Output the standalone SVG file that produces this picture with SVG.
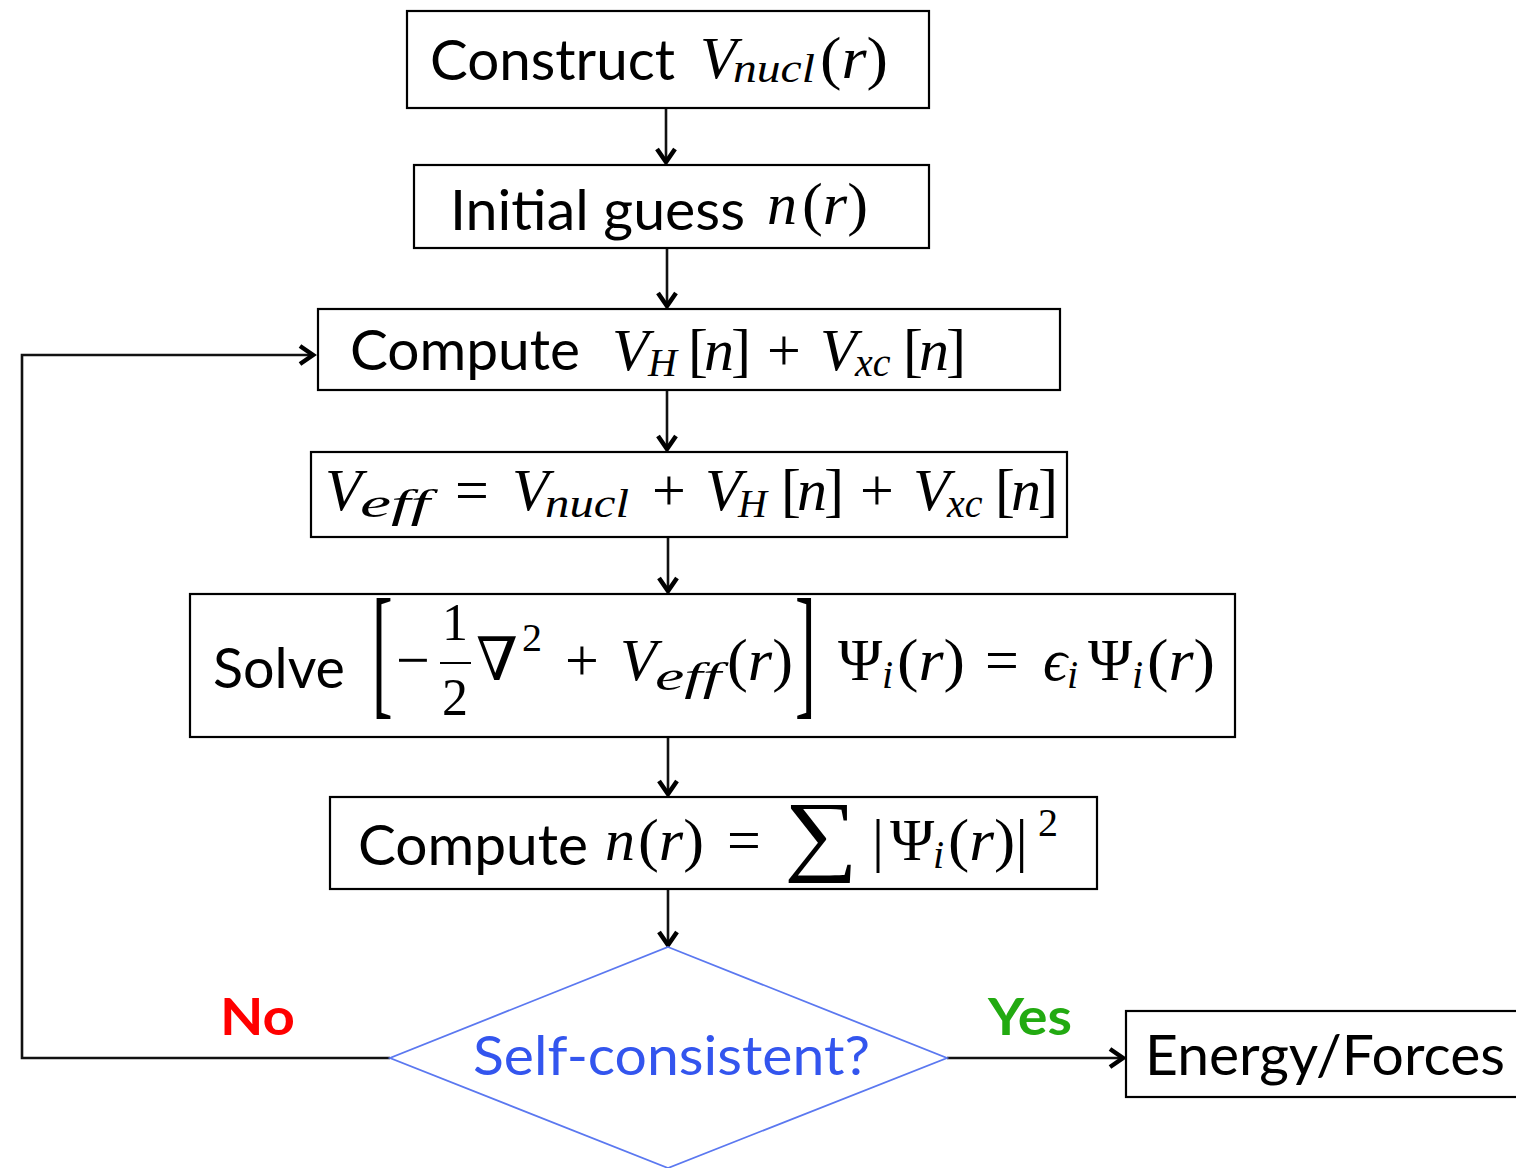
<svg xmlns="http://www.w3.org/2000/svg" width="1516" height="1168" viewBox="0 0 1516 1168">
<defs>
<style>
.box{fill:#fff;stroke:#000;stroke-width:2.2}
.dia{fill:#fff;stroke:#5b78f0;stroke-width:1.8}
.con{fill:none;stroke:#111;stroke-width:2.6}
.sans{font-family:Lato,"Open Sans","Liberation Sans",sans-serif;fill:#000}
.m{font-family:"Liberation Serif","DejaVu Serif",serif;font-style:italic;fill:#000}
.mr{font-family:"Liberation Serif","DejaVu Serif",serif;fill:#000}
</style>
<marker id="ah" viewBox="0 0 24 24" refX="19" refY="12" markerWidth="24" markerHeight="24" markerUnits="userSpaceOnUse" orient="auto">
<path d="M6,3 L19,12 L6,21" fill="none" stroke="#000" stroke-width="4.5" stroke-linejoin="miter"/>
</marker>
</defs>
<rect width="1516" height="1168" fill="#fff"/>

<g id="connectors">
<line class="con" x1="666" y1="108" x2="666" y2="162" marker-end="url(#ah)"/>
<line class="con" x1="667" y1="248" x2="667" y2="306" marker-end="url(#ah)"/>
<line class="con" x1="667" y1="390" x2="667" y2="449" marker-end="url(#ah)"/>
<line class="con" x1="668" y1="537" x2="668" y2="591" marker-end="url(#ah)"/>
<line class="con" x1="668" y1="737" x2="668" y2="794" marker-end="url(#ah)"/>
<line class="con" x1="668" y1="889" x2="668" y2="945" marker-end="url(#ah)"/>
<polyline class="con" points="390,1058 22,1058 22,355 313,355" marker-end="url(#ah)"/>
<line class="con" x1="947" y1="1058" x2="1123" y2="1058" marker-end="url(#ah)"/>
</g>

<g id="n1">
<rect class="box" x="407" y="11" width="522" height="97"/>
<text class="sans" x="430" y="80" font-size="56" textLength="245" lengthAdjust="spacingAndGlyphs">Construct</text>
<text class="m" x="700" y="78" font-size="60">V</text>
<text class="m" x="733" y="82" font-size="40" textLength="82" lengthAdjust="spacingAndGlyphs">nucl</text>
<text class="mr" x="820" y="78" font-size="60" textLength="68" lengthAdjust="spacingAndGlyphs">(<tspan class="m">r</tspan>)</text>
</g>

<g id="n2">
<rect class="box" x="414" y="165" width="515" height="83"/>
<text class="sans" x="450" y="230" font-size="56" textLength="295" lengthAdjust="spacingAndGlyphs">Initial guess</text>
<text class="m" x="767" y="224" font-size="60">n</text>
<text class="mr" x="802" y="224" font-size="60" textLength="66" lengthAdjust="spacingAndGlyphs">(<tspan class="m">r</tspan>)</text>
</g>

<g id="n3">
<rect class="box" x="318" y="309" width="742" height="81"/>
<text class="sans" x="350" y="370" font-size="56" textLength="230" lengthAdjust="spacingAndGlyphs">Compute</text>
<text class="m" x="612" y="370" font-size="60">V</text>
<text class="m" x="648" y="376" font-size="40">H</text>
<text class="mr" x="688" y="370" font-size="60">[<tspan class="m" dx="-4">n</tspan><tspan dx="-3">]</tspan></text>
<text class="mr" x="767" y="370" font-size="60">+</text>
<text class="m" x="820" y="370" font-size="60">V</text>
<text class="m" x="855" y="376" font-size="40">xc</text>
<text class="mr" x="903" y="370" font-size="60">[<tspan class="m" dx="-4">n</tspan><tspan dx="-3">]</tspan></text>
</g>

<g id="n4">
<rect class="box" x="311" y="452" width="756" height="85"/>
<text class="m" x="325" y="510" font-size="60">V</text>
<text class="m" x="360" y="517" font-size="40" textLength="70" lengthAdjust="spacingAndGlyphs">eff</text>
<text class="mr" x="455" y="510" font-size="60">=</text>
<text class="m" x="512" y="510" font-size="60">V</text>
<text class="m" x="545" y="517" font-size="40" textLength="84" lengthAdjust="spacingAndGlyphs">nucl</text>
<text class="mr" x="652" y="510" font-size="60">+</text>
<text class="m" x="705" y="510" font-size="60">V</text>
<text class="m" x="738" y="517" font-size="40">H</text>
<text class="mr" x="781" y="510" font-size="60">[<tspan class="m" dx="-4">n</tspan><tspan dx="-3">]</tspan></text>
<text class="mr" x="860" y="510" font-size="60">+</text>
<text class="m" x="913" y="510" font-size="60">V</text>
<text class="m" x="947" y="517" font-size="40">xc</text>
<text class="mr" x="995" y="510" font-size="60">[<tspan class="m" dx="-4">n</tspan><tspan dx="-3">]</tspan></text>
</g>

<g id="n5">
<rect class="box" x="190" y="594" width="1045" height="143"/>
<text class="sans" x="213" y="688" font-size="56" textLength="132" lengthAdjust="spacingAndGlyphs">Solve</text>
<text class="mr" font-size="62" transform="translate(372,699) scale(1,2.35)">[</text>
<text class="mr" x="396" y="680" font-size="60">−</text>
<text class="mr" x="442" y="640" font-size="52">1</text>
<line x1="440" y1="663" x2="471" y2="663" stroke="#000" stroke-width="2"/>
<text class="mr" x="442" y="715" font-size="52">2</text>
<text class="mr" x="476" y="680" font-size="60">∇</text>
<text class="mr" x="522" y="651" font-size="40">2</text>
<text class="mr" x="565" y="680" font-size="60">+</text>
<text class="m" x="620" y="680" font-size="60">V</text>
<text class="m" x="655" y="690" font-size="40" textLength="66" lengthAdjust="spacingAndGlyphs">eff</text>
<text class="mr" x="727" y="680" font-size="60" textLength="66" lengthAdjust="spacingAndGlyphs">(<tspan class="m">r</tspan>)</text>
<text class="mr" font-size="62" transform="translate(795,699) scale(1,2.35)">]</text>
<text class="mr" x="838" y="680" font-size="60">Ψ</text>
<text class="m" x="882" y="688" font-size="40">i</text>
<text class="mr" x="897" y="680" font-size="60" textLength="68" lengthAdjust="spacingAndGlyphs">(<tspan class="m">r</tspan>)</text>
<text class="mr" x="985" y="680" font-size="60">=</text>
<text class="m" x="1043" y="680" font-size="60">ϵ</text>
<text class="m" x="1067" y="688" font-size="40">i</text>
<text class="mr" x="1088" y="680" font-size="60">Ψ</text>
<text class="m" x="1132" y="688" font-size="40">i</text>
<text class="mr" x="1147" y="680" font-size="60" textLength="68" lengthAdjust="spacingAndGlyphs">(<tspan class="m">r</tspan>)</text>
</g>

<g id="n6">
<rect class="box" x="330" y="797" width="767" height="92"/>
<text class="sans" x="358" y="865" font-size="56" textLength="230" lengthAdjust="spacingAndGlyphs">Compute</text>
<text class="m" x="605" y="860" font-size="60">n</text>
<text class="mr" x="638" y="860" font-size="60" textLength="66" lengthAdjust="spacingAndGlyphs">(<tspan class="m">r</tspan>)</text>
<text class="mr" x="727" y="860" font-size="60">=</text>
<text class="mr" x="784" y="864" font-size="90" textLength="74" lengthAdjust="spacingAndGlyphs">∑</text>
<text class="mr" x="872" y="860" font-size="60">|</text>
<text class="mr" x="890" y="860" font-size="60">Ψ</text>
<text class="m" x="933" y="868" font-size="40">i</text>
<text class="mr" x="948" y="860" font-size="60" textLength="80" lengthAdjust="spacingAndGlyphs">(<tspan class="m">r</tspan>)|</text>
<text class="mr" x="1038" y="836" font-size="40">2</text>
</g>

<g id="n7">
<polygon class="dia" points="668,947 947,1058 668,1168 390,1058"/>
<text class="sans" x="473" y="1075" font-size="54" style="fill:#3355ee" textLength="397" lengthAdjust="spacingAndGlyphs">Self-consistent?</text>
</g>

<text class="sans" x="220" y="1035" font-size="52" font-weight="bold" style="fill:#ff0000" textLength="75" lengthAdjust="spacingAndGlyphs">No</text>
<text class="sans" x="988" y="1035" font-size="52" font-weight="bold" style="fill:#22aa11" textLength="84" lengthAdjust="spacingAndGlyphs">Yes</text>

<g id="n8">
<rect class="box" x="1126" y="1011" width="395" height="86"/>
<text class="sans" x="1145" y="1075" font-size="56" textLength="360" lengthAdjust="spacingAndGlyphs">Energy/Forces</text>
</g>
</svg>
